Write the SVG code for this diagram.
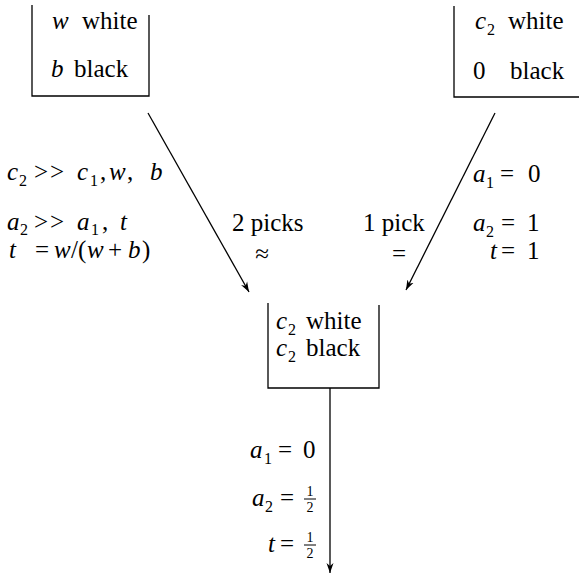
<svg xmlns="http://www.w3.org/2000/svg" width="579" height="576" viewBox="0 0 579 576">
<defs>
<marker id="ah" markerWidth="11" markerHeight="8" refX="10" refY="4" orient="auto" markerUnits="userSpaceOnUse">
<path d="M0,0.5 L10,4 L0,7.5 L3,4 z" fill="#000"/>
</marker>
</defs>
<style>
text{font-family:"Liberation Serif","Times New Roman",Times,"DejaVu Serif",serif;font-size:25px;fill:#000}
.i{font-style:italic}
.s{font-size:16px}
.f{font-size:14px}
.gg{letter-spacing:2px}
.box{fill:none;stroke:#000;stroke-width:1.3}
.con{fill:none;stroke:#000;stroke-width:1.3;marker-end:url(#ah)}
.bar{stroke:#000;stroke-width:1}
</style>
<rect width="579" height="576" fill="#fff"/>

<g id="box-start">
<path class="box" d="M32,5 V96 H149 V15"/>
<text x="52" y="29" class="i">w</text><text x="82" y="29">white</text>
<text x="51" y="77" class="i">b</text><text x="74" y="77">black</text>
</g>

<g id="box-pure">
<path class="box" d="M454,6 V97 H579"/>
<text x="475" y="29" class="i">c</text><text x="487" y="35" class="s">2</text><text x="508" y="29">white</text>
<text x="473" y="79">0</text><text x="510" y="79">black</text>
</g>

<g id="box-result">
<path class="box" d="M268,303 V388 H379 V305"/>
<text x="276" y="329" class="i">c</text><text x="288" y="335" class="s">2</text><text x="306" y="329">white</text>
<text x="276" y="356" class="i">c</text><text x="288" y="362" class="s">2</text><text x="306" y="356">black</text>
</g>

<g id="connectors">
<line class="con" x1="148" y1="113" x2="249" y2="292"/>
<line class="con" x1="495" y1="113" x2="406" y2="290"/>
<line class="con" x1="330" y1="388" x2="330" y2="573"/>
</g>

<g id="label-left">
<text y="180"><tspan x="7" class="i">c</tspan><tspan x="19" dy="6" class="s">2</tspan><tspan x="34" dy="-6" class="gg">&gt;&gt;</tspan><tspan x="77" class="i">c</tspan><tspan x="90" dy="6" class="s">1</tspan><tspan x="100" dy="-6">,</tspan><tspan x="109" class="i">w</tspan><tspan x="127">,</tspan><tspan x="150" class="i">b</tspan></text>
<text y="230"><tspan x="7" class="i">a</tspan><tspan x="20" dy="5" class="s">2</tspan><tspan x="34" dy="-5" class="gg">&gt;&gt;</tspan><tspan x="77" class="i">a</tspan><tspan x="91" dy="5" class="s">1</tspan><tspan x="102" dy="-5">,</tspan><tspan x="120" class="i">t</tspan></text>
<text y="258"><tspan x="9" class="i">t</tspan><tspan x="35">=</tspan><tspan x="54" class="i">w</tspan><tspan x="71">/(</tspan><tspan x="87" class="i">w</tspan><tspan x="108">+</tspan><tspan x="128" class="i">b</tspan><tspan x="142">)</tspan></text>
</g>

<g id="label-mid">
<text x="232" y="231">2 picks</text>
<text x="262" y="262" text-anchor="middle">≈</text>
<text x="363" y="231">1 pick</text>
<text x="399" y="262" text-anchor="middle">=</text>
</g>

<g id="label-right">
<text y="182"><tspan x="473" class="i">a</tspan><tspan x="486" dy="6" class="s">1</tspan><tspan x="500" dy="-6">=</tspan><tspan x="528">0</tspan></text>
<text y="231"><tspan x="473" class="i">a</tspan><tspan x="486" dy="6" class="s">2</tspan><tspan x="501" dy="-6">=</tspan><tspan x="527">1</tspan></text>
<text y="259"><tspan x="490" class="i">t</tspan><tspan x="501">=</tspan><tspan x="527">1</tspan></text>
</g>

<g id="label-bottom">
<text y="458"><tspan x="250" class="i">a</tspan><tspan x="264" dy="6" class="s">1</tspan><tspan x="278" dy="-6">=</tspan><tspan x="303">0</tspan></text>
<text y="506"><tspan x="252" class="i">a</tspan><tspan x="265" dy="6" class="s">2</tspan><tspan x="280" dy="-6">=</tspan></text>
<text x="310" y="496" class="f" text-anchor="middle">1</text><line class="bar" x1="304" y1="499" x2="316" y2="499"/><text x="310" y="512" class="f" text-anchor="middle">2</text>
<text y="552"><tspan x="268" class="i">t</tspan><tspan x="280">=</tspan></text>
<text x="310" y="542" class="f" text-anchor="middle">1</text><line class="bar" x1="304" y1="545" x2="316" y2="545"/><text x="310" y="558" class="f" text-anchor="middle">2</text>
</g>
</svg>
